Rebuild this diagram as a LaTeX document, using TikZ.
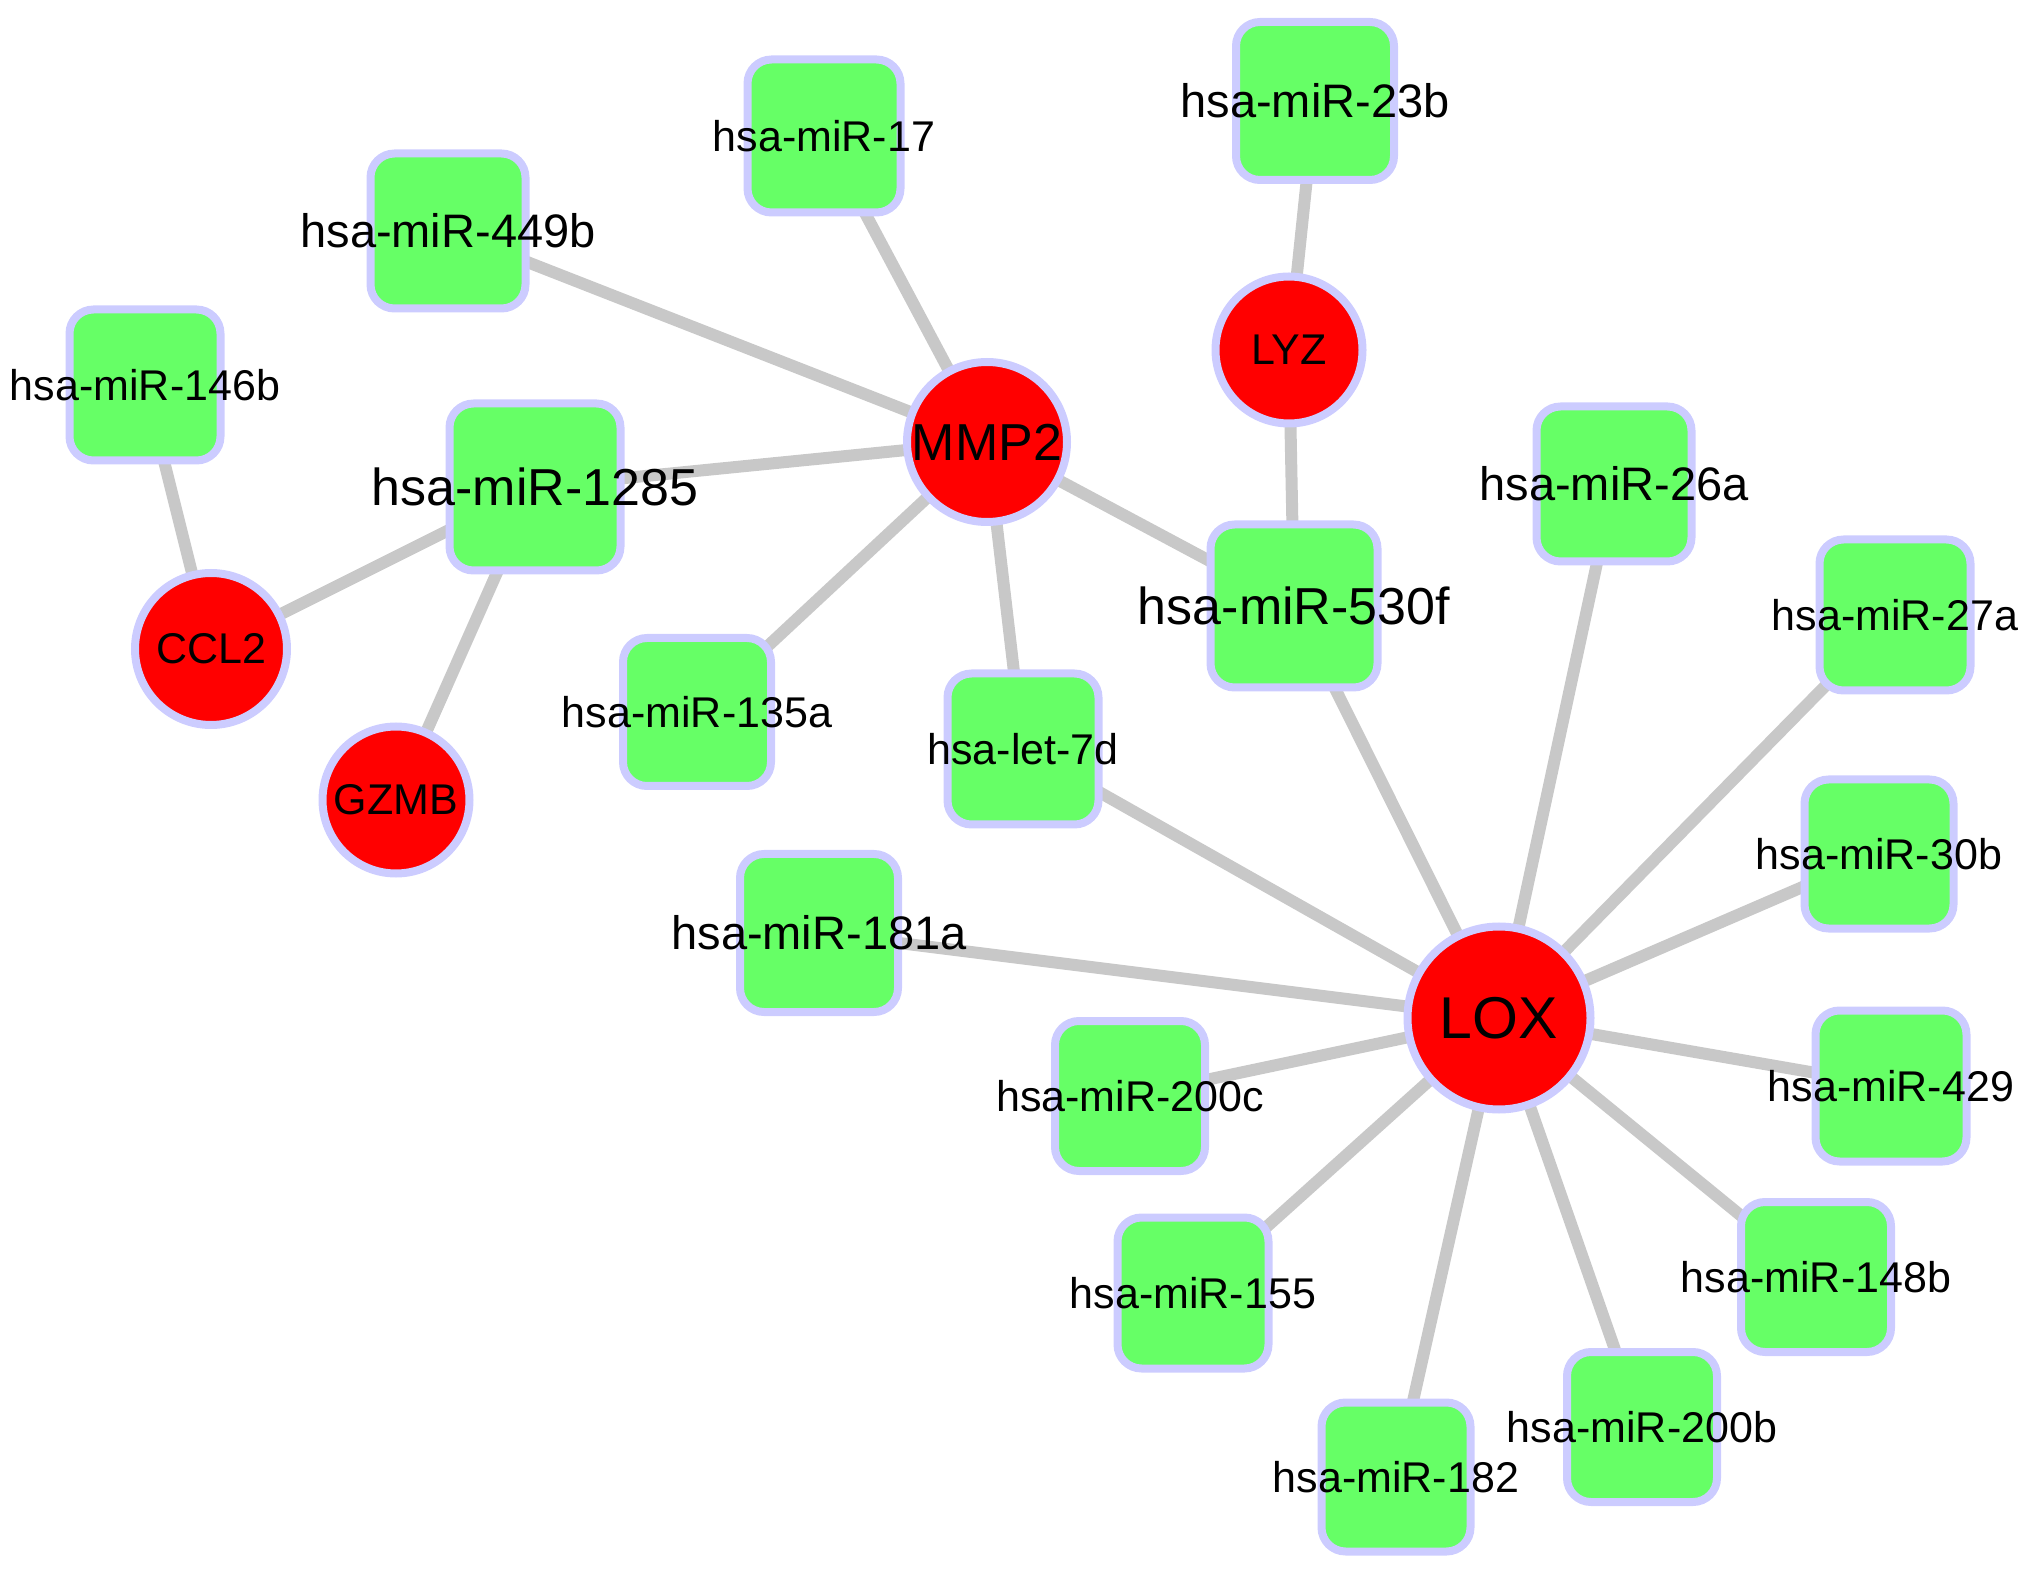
\documentclass[tikz,border=0pt]{standalone}
\usepackage{fontspec}
\setmainfont{Liberation Sans}
\usetikzlibrary{backgrounds}
\definecolor{gfill}{HTML}{66FF66}
\definecolor{rfill}{HTML}{FF0000}
\definecolor{bord}{HTML}{CCCCFF}
\definecolor{edge}{HTML}{C8C8C8}
\tikzset{
  mir/.style={draw=bord, line width=4pt, fill=gfill, rounded corners=12pt, rectangle, inner sep=0pt},
  gene/.style={draw=bord, line width=4pt, fill=rfill, circle, inner sep=0pt},
  fs/.style={font=\fontsize{21.5}{24}\selectfont},
  fm/.style={font=\fontsize{23.5}{26}\selectfont},
  fl/.style={font=\fontsize{26}{28}\selectfont},
  fx/.style={font=\fontsize{29.5}{32}\selectfont},
  lab/.style={inner sep=0pt, text=black},
  link/.style={draw=edge, line width=6pt}
}
\begin{document}
\begin{tikzpicture}[x=0.5pt, y=-0.5pt]
\useasboundingbox (0,0) rectangle (2031,1572);
% miRNA boxes
\node[mir, minimum width=79pt, minimum height=79pt] (m23b) at (1315,101) {};
\node[mir, minimum width=76.5pt, minimum height=76.5pt] (m17) at (824,136) {};
\node[mir, minimum width=77.5pt, minimum height=77.5pt] (m449b) at (448,231) {};
\node[mir, minimum width=75.5pt, minimum height=75.5pt] (m146b) at (145,385) {};
\node[mir, minimum width=85.5pt, minimum height=83.5pt] (m1285) at (535,487) {};
\node[mir, minimum width=83.5pt, minimum height=81.5pt] (m530f) at (1294,606) {};
\node[mir, minimum width=77.5pt, minimum height=77.5pt] (m26a) at (1614,484) {};
\node[mir, minimum width=75.5pt, minimum height=75.5pt] (m27a) at (1895,615) {};
\node[mir, minimum width=74pt, minimum height=74pt] (m135a) at (697,712) {};
\node[mir, minimum width=75.5pt, minimum height=75.5pt] (let7d) at (1023,749) {};
\node[mir, minimum width=74.5pt, minimum height=74.5pt] (m30b) at (1879,854) {};
\node[mir, minimum width=79pt, minimum height=79pt] (m181a) at (819,933) {};
\node[mir, minimum width=75pt, minimum height=75pt] (m200c) at (1130,1096) {};
\node[mir, minimum width=75.5pt, minimum height=75.5pt] (m429) at (1891,1086) {};
\node[mir, minimum width=75.5pt, minimum height=75.5pt] (m155) at (1193,1293) {};
\node[mir, minimum width=75pt, minimum height=75pt] (m148b) at (1816,1277) {};
\node[mir, minimum width=75pt, minimum height=75pt] (m200b) at (1642,1427) {};
\node[mir, minimum width=74.5pt, minimum height=74.5pt] (m182) at (1396,1477) {};
% genes
\node[gene, minimum size=80pt] (MMP2) at (987,442) {};
\node[gene, minimum size=73.5pt] (LYZ) at (1289,350) {};
\node[gene, minimum size=76pt] (CCL2) at (211,649) {};
\node[gene, minimum size=73.5pt] (GZMB) at (396,800) {};
\node[gene, minimum size=91.5pt] (LOX) at (1499,1018) {};
% labels
\node[lab, fm] (t23b) at (m23b) {hsa-miR-23b};
\node[lab, fs] (t17) at (m17) {hsa-miR-17};
\node[lab, fm] (t449b) at (m449b) {hsa-miR-449b};
\node[lab, fs] (t146b) at (m146b) {hsa-miR-146b};
\node[lab, fl] (t1285) at (m1285) {hsa-miR-1285};
\node[lab, fl] (t530f) at (m530f) {hsa-miR-530f};
\node[lab, fm] (t26a) at (m26a) {hsa-miR-26a};
\node[lab, fs] (t27a) at (m27a) {hsa-miR-27a};
\node[lab, fs] (t135a) at (m135a) {hsa-miR-135a};
\node[lab, fs] (tlet7d) at (let7d) {hsa-let-7d};
\node[lab, fs] (t30b) at (m30b) {hsa-miR-30b};
\node[lab, fm] (t181a) at (m181a) {hsa-miR-181a};
\node[lab, fs] (t200c) at (m200c) {hsa-miR-200c};
\node[lab, fs] (t429) at (m429) {hsa-miR-429};
\node[lab, fs] (t155) at (m155) {hsa-miR-155};
\node[lab, fs] (t148b) at (m148b) {hsa-miR-148b};
\node[lab, fs] (t200b) at (m200b) {hsa-miR-200b};
\node[lab, fs] (t182) at (m182) {hsa-miR-182};
\node[lab, fl] (tMMP2) at (MMP2) {MMP2};
\node[lab, fs] (tLYZ) at (LYZ) {LYZ};
\node[lab, fs] (tCCL2) at (CCL2) {CCL2};
\node[lab, fs] (tGZMB) at (GZMB) {GZMB};
\node[lab, fx] (tLOX) at (LOX) {LOX};
% edges
\begin{scope}[on background layer]
\draw[link] (m23b.center) -- (LYZ.center);
\draw[link] (LYZ.center) -- (m530f.center);
\draw[link] (MMP2.center) -- (m17.center);
\draw[link] (MMP2.center) -- (m449b.center);
\draw[link] (MMP2.center) -- (m1285.center);
\draw[link] (MMP2.center) -- (m530f.center);
\draw[link] (MMP2.center) -- (m135a.center);
\draw[link] (MMP2.center) -- (let7d.center);
\draw[link] (m146b.center) -- (CCL2.center);
\draw[link] (CCL2.center) -- (m1285.center);
\draw[link] (m1285.center) -- (GZMB.center);
\draw[link] (LOX.center) -- (m530f.center);
\draw[link] (LOX.center) -- (m26a.center);
\draw[link] (LOX.center) -- (m27a.center);
\draw[link] (LOX.center) -- (m30b.center);
\draw[link] (LOX.center) -- (m429.center);
\draw[link] (LOX.center) -- (m148b.center);
\draw[link] (LOX.center) -- (m200b.center);
\draw[link] (LOX.center) -- (m182.center);
\draw[link] (LOX.center) -- (m155.center);
\draw[link] (LOX.center) -- (m200c.center);
\draw[link] (LOX.center) -- (m181a.center);
\draw[link] (LOX.center) -- (let7d.center);
\end{scope}
\end{tikzpicture}
\end{document}
